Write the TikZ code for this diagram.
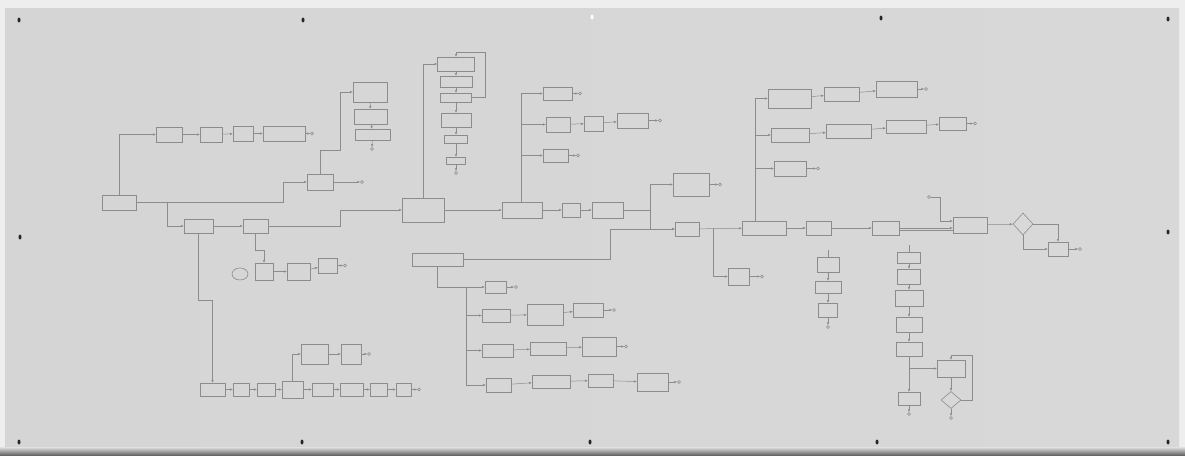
\documentclass[tikz,border=0pt]{standalone}
\usetikzlibrary{arrows.meta,shapes.geometric}
\definecolor{paperL}{RGB}{213,213,213}
\definecolor{paperM}{RGB}{225,225,225}
\definecolor{paperR}{RGB}{216,216,216}
\definecolor{pencil}{RGB}{140,140,140}
\definecolor{wall}{RGB}{238,238,238}
\newcommand\bx[5]{\node[bx,minimum width={(#4)-(#2)},minimum height={(#5)-(#3)}] (#1) at ({((#2)+(#4))/2},{((#3)+(#5))/2}) {};}
\newcommand\tm[3]{\node[term] (#1) at (#2,#3) {};}
\begin{document}
\begin{tikzpicture}[x=1pt,y=-1pt,
  bx/.style={draw=pencil,line width=0.6pt,inner sep=0pt,outer sep=0pt},
  ln/.style={draw=pencil,line width=0.5pt},
  ar/.style={ln,-{Latex[length=3pt,width=2.4pt]}},
  term/.style={circle,draw=pencil,line width=0.5pt,inner sep=0pt,minimum size=3pt},
  pin/.style={ellipse,fill=black!85,inner sep=0pt,minimum width=3pt,minimum height=5pt}]
\useasboundingbox (0,0) rectangle (1185,455);
% background
\fill[wall] (0,0) rectangle (1185,455);
\shade[left color=paperL,middle color=paperM,right color=paperR] (5,8) rectangle (1179,449);
\shade[top color=paperM,bottom color=black!60] (0,447) rectangle (1185,455);
% pins
\foreach \p/\q in {19/20,303/20,881/18,1168/19,20/237,1168/232,19/442,302/442,590/442,877/442,1168/442}
  \node[pin] (pin\p-\q) at (\p,\q) {};
\node[pin,fill=white] (pinw) at (592,17) {};

% ---------- left part ----------
\bx{A}{102}{195}{136}{210}
\bx{C1}{156}{127}{182}{142}
\bx{C2}{200}{127}{222}{142}
\bx{C3}{233}{126}{253}{141}
\bx{C4}{263}{126}{305}{141}
\tm{c4t}{312}{133.5}
\bx{B}{307}{174}{333}{190}
\tm{bt}{362}{182}
\bx{D1}{184}{219}{213}{233}
\bx{D2}{243}{219}{268}{233}
\bx{L1}{353}{82}{387}{102}
\bx{L2}{354}{109}{387}{124}
\bx{L3}{355}{129}{390}{140}
\tm{l3t}{372}{149}

\draw[ar] (A.north) |- (C1.west);
\draw[ar] (C1) -- (C2);
\draw[ar] (C2) -- (C3);
\draw[ar] (C3) -- (C4);
\draw[ar] (C4) -- (c4t);
\draw[ar] (A.east) -- ++(147,0) |- (B.west);
\draw[ar] (B) -- (bt);
\coordinate (a1) at (167,202.5);
\draw[ar] (a1) |- (D1.west);
\draw[ar] (D1) -- (D2);
\draw[ar] (B.north) |- (340,150) |- (L1.west);
\draw[ar] (L1) -- (L2);
\draw[ar] (L2) -- (L3);
\draw[ar] (L3) -- (l3t);

% G row
\node[ellipse,draw=pencil,line width=0.6pt,minimum width=16pt,minimum height=12pt,inner sep=0pt] (G0) at (240,274) {};
\bx{G1}{255}{263}{273}{280}
\bx{G2}{287}{263}{310}{280}
\bx{G3}{318}{258}{337}{273}
\tm{g3t}{345}{265.5}
\draw[ar] (D2.south) -- ++(0,17) -| (G1.north);
\draw[ar] (G1) -- (G2);
\draw[ar] (G2) -- (G3);
\draw[ar] (G3) -- (g3t);

% F row (bottom)
\bx{F1}{200}{383}{225}{396}
\bx{F2}{233}{383}{249}{396}
\bx{F3}{257}{383}{275}{396}
\bx{F4}{282}{381}{303}{398}
\bx{F5}{312}{383}{333}{396}
\bx{F6}{340}{383}{363}{396}
\bx{F7}{370}{383}{387}{396}
\bx{F8}{396}{383}{411}{396}
\tm{f8t}{419}{389.5}
\bx{H1}{301}{344}{328}{364}
\bx{H2}{341}{344}{361}{364}
\tm{h2t}{369}{354}
\draw[ar] (D1.south) -- ++(0,67) -| (F1.north);
\draw[ar] (F1) -- (F2);
\draw[ar] (F2) -- (F3);
\draw[ar] (F3) -- (F4);
\draw[ar] (F4) -- (F5);
\draw[ar] (F5) -- (F6);
\draw[ar] (F6) -- (F7);
\draw[ar] (F7) -- (F8);
\draw[ar] (F8) -- (f8t);
\draw[ar] (F4.north) |- (H1.west);
\draw[ar] (H1) -- (H2);
\draw[ar] (H2) -- (h2t);

% ---------- centre ----------
\bx{E}{402}{198}{444}{222}
\draw[ar] (D2.east) -- ++(72,0) |- (E.west);
\bx{K1}{437.5}{57}{474.5}{71}
\bx{K2}{440}{76}{472}{87}
\bx{K3}{440.5}{93}{471.5}{102}
\bx{K4}{441}{113}{471}{127}
\bx{K5}{444.5}{135}{467.5}{143}
\bx{K6}{446.5}{157}{465.5}{164}
\tm{k6t}{456}{173}
\draw[ar] (E.north) |- (K1.west);
\draw[ar] (K1) -- (K2);
\draw[ar] (K2) -- (K3);
\draw[ar] (K3.east) -| (485,52) -| (K1.north);
\draw[ar] (K3) -- (K4);
\draw[ar] (K4) -- (K5);
\draw[ar] (K5) -- (K6);
\draw[ar] (K6) -- (k6t);

\bx{M}{502}{202}{542}{218}
\bx{N}{562}{203}{580}{217}
\bx{O}{592}{202}{623}{218}
\draw[ar] (E) -- (M);
\draw[ar] (M) -- (N);
\draw[ar] (N) -- (O);
\bx{R1}{543}{87}{572}{100}
\tm{r1t}{580}{93.5}
\bx{Ra}{546}{117}{570}{132}
\bx{Rb}{584}{116}{603}{131}
\bx{Rc}{617}{113}{648}{128}
\tm{rct}{660}{120.5}
\bx{R3}{543}{149}{568}{162}
\tm{r3t}{578}{155.5}
\draw[ar] ([xshift=-1pt]M.north) |- (R1.west);
\draw[ar] ([xshift=-1pt]M.north) |- (Ra.west);
\draw[ar] ([xshift=-1pt]M.north) |- (R3.west);
\draw[ar] (R1) -- (r1t);
\draw[ar] (Ra) -- (Rb);
\draw[ar] (Rb) -- (Rc);
\draw[ar] (Rc) -- (rct);
\draw[ar] (R3) -- (r3t);

\bx{P}{673}{173}{709}{196}
\tm{pt}{720}{184.5}
\bx{Q}{675}{222}{699}{236}
\coordinate (o1) at (650,210);
\draw[ln] (O.east) -- (o1);
\draw[ar] (o1) |- (P.west);
\draw[ar] (o1) |- (Q.west);
\draw[ar] (P) -- (pt);

% S and lower-middle group
\bx{S}{412}{253}{463}{266}
\draw[ar] (S.east) -- (610,259.5) |- (Q.west);
\coordinate (s1) at (466,287);
\draw[ln] (S.south) |- (s1);
\bx{T1}{485}{281}{506}{293}
\tm{t1t}{516}{287}
\bx{W21}{482}{309}{510}{322}
\bx{W22}{527}{304}{563}{325}
\bx{W23}{573}{303}{603}{317}
\tm{w23t}{614}{310}
\bx{W31}{482}{344}{513}{357}
\bx{W32}{530}{342}{566}{355}
\bx{W33}{582}{337}{616}{356}
\tm{w33t}{626}{346.5}
\bx{W41}{486}{378}{511}{392}
\bx{W42}{532}{375}{570}{388}
\bx{W43}{588}{374}{613}{387}
\bx{W44}{637}{373}{668}{391}
\tm{w44t}{679}{382}
\draw[ar] (s1) -- (T1.west);
\draw[ar] (s1) |- (W21.west);
\draw[ar] (s1) |- (W31.west);
\draw[ar] (s1) |- (W41.west);
\draw[ar] (T1) -- (t1t);
\draw[ar] (W21) -- (W22);
\draw[ar] (W22) -- (W23);
\draw[ar] (W23) -- (w23t);
\draw[ar] (W31) -- (W32);
\draw[ar] (W32) -- (W33);
\draw[ar] (W33) -- (w33t);
\draw[ar] (W41) -- (W42);
\draw[ar] (W42) -- (W43);
\draw[ar] (W43) -- (W44);
\draw[ar] (W44) -- (w44t);

% ---------- right part ----------
\bx{T}{742}{221}{786}{235}
\draw[ar] (Q) -- (T);
\bx{U}{728}{268}{749}{285}
\tm{ut}{762}{276.5}
\coordinate (q1) at (713,228);
\draw[ar] (q1) |- (U.west);
\draw[ar] (U) -- (ut);

\bx{V1}{768}{89}{811}{108}
\bx{V2}{824}{87}{859}{101}
\bx{V3}{876}{81}{917}{97}
\tm{v3t}{926}{89}
\bx{X1}{771}{128}{809}{142}
\bx{X2}{826}{124}{871}{138}
\bx{X3}{886}{120}{926}{133}
\bx{X4}{939}{117}{966}{130}
\tm{x4t}{975}{123.5}
\bx{Y0}{774}{161}{806}{176}
\tm{y0t}{818}{168.5}
\draw[ar] ([xshift=-9pt]T.north) |- (V1.west);
\draw[ar] ([xshift=-9pt]T.north) |- (X1.west);
\draw[ar] ([xshift=-9pt]T.north) |- (Y0.west);
\draw[ar] (V1) -- (V2);
\draw[ar] (V2) -- (V3);
\draw[ar] (V3) -- (v3t);
\draw[ar] (X1) -- (X2);
\draw[ar] (X2) -- (X3);
\draw[ar] (X3) -- (X4);
\draw[ar] (X4) -- (x4t);
\draw[ar] (Y0) -- (y0t);

\bx{Y1}{806}{221}{831}{235}
\bx{Y2}{872}{221}{899}{235}
\bx{Z}{953}{217}{987}{233}
\draw[ar] (T) -- (Y1);
\draw[ar] (Y1) -- (Y2);
\draw[ar] (Y2.east) -- (Z.west |- Y2.east);
\draw[ln] ([yshift=-2pt]Y2.east) -- ([yshift=-2pt]Z.west |- Y2.east);
\tm{zt}{929}{197}
\draw[ar] (zt.east) -| (940,221) -- (Z.west |- 940,221);
\node[diamond,draw=pencil,line width=0.6pt,minimum width=20pt,minimum height=22pt,inner sep=0pt] (DM) at (1023,224) {};
\draw[ar] (Z) -- (DM);
\bx{AA}{1048}{242}{1068}{256}
\tm{aat}{1080}{249}
\draw[ar] (DM.east) -| (AA.north);
\draw[ar] (DM.south) |- (AA.west);
\draw[ar] (AA) -- (aat);

% lower column at x 828
\bx{Ca}{817}{257}{839}{272}
\bx{Cb}{815}{281}{841}{293}
\bx{Cc}{818.5}{303}{837.5}{317}
\tm{cct}{828}{327}
\coordinate (ca0) at (828,250);
\draw[ln] (ca0) -- (Ca.north);
\draw[ar] (Ca) -- (Cb);
\draw[ar] (Cb) -- (Cc);
\draw[ar] (Cc) -- (cct);

% lower column at x 909
\bx{E1}{897.5}{252}{920.5}{263}
\bx{E2}{897.5}{269}{920.5}{284}
\bx{E3}{895}{290}{923}{306}
\bx{E4}{896}{317}{922}{332}
\bx{E5}{896}{342}{922}{356}
\bx{E6}{898}{392}{920}{405}
\tm{e6t}{909}{414}
\coordinate (e0) at (909,245);
\draw[ln] (e0) -- (E1.north);
\draw[ar] (E1) -- (E2);
\draw[ar] (E2) -- (E3);
\draw[ar] (E3) -- (E4);
\draw[ar] (E4) -- (E5);
\draw[ar] (E5) -- (E6);
\draw[ar] (E6) -- (e6t);
\bx{GG}{937}{360}{965}{377}
\coordinate (e5b) at (909,368.5);
\draw[ar] (e5b) -- (GG.west);
\node[diamond,draw=pencil,line width=0.6pt,minimum width=20pt,minimum height=17pt,inner sep=0pt] (DD) at (951,400) {};
\tm{ddt}{951}{418}
\draw[ar] (GG.south -| DD.north) -- (DD.north);
\draw[ar] (DD.east) -| (972,355) -| (GG.north -| DD.north);
\draw[ar] (DD.south) -- (ddt);
\end{tikzpicture}
\end{document}
